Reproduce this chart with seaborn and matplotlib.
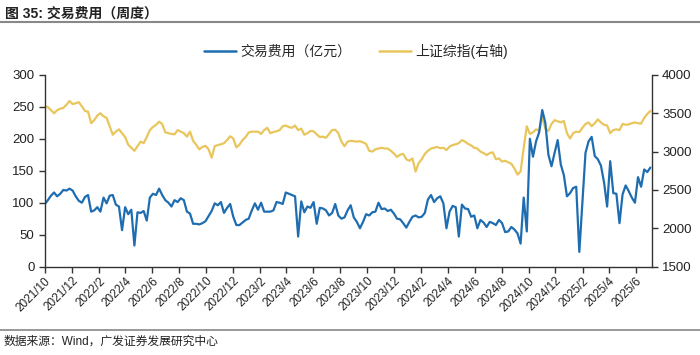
import numpy as np
import pandas as pd
import matplotlib
matplotlib.use("Agg")
import matplotlib.pyplot as plt
from matplotlib.lines import Line2D
import seaborn as sns

# weekly data
fee = [98, 104, 111, 116, 110, 114, 120, 119, 122, 119,
       110, 103, 100, 109, 112, 86, 88, 93, 86, 108,
       99, 111, 112, 97, 94, 57, 93, 82, 89, 33,
       85, 84, 87, 72, 108, 114, 112, 122, 112, 104,
       100, 94, 104, 101, 107, 104, 86, 83, 67, 67,
       66, 68, 71, 79, 87, 99, 96, 101, 84, 92,
       98, 78, 65, 65, 69, 73, 75, 88, 99, 89,
       100, 86, 86, 86, 88, 101, 100, 98,
       116, 114, 112, 110, 47, 102, 85, 94, 92, 101,
       67, 92, 91, 88, 80, 84, 98, 80, 75, 77,
       88, 96, 77, 70, 60, 70, 82, 80, 85, 86,
       100, 90, 91, 87, 89, 83, 75, 74, 68,
       61, 70, 78, 80, 77, 78, 84, 105, 112, 101,
       107, 110, 99, 60, 86, 95, 93, 47, 97, 91,
       90, 78, 80, 60, 73, 69, 62, 70, 68, 65,
       73, 68, 54, 55, 62, 58, 52, 36,
       108, 55, 200, 172, 196, 210, 245, 225, 175, 157,
       178, 198, 160, 143, 110, 115, 123, 125, 23, 100,
       178, 196, 203, 173, 168, 158, 132, 94, 165, 115,
       114, 68, 113, 127, 118, 108, 100, 140, 125, 152,
       148, 155]

sh_index = [3590, 3580, 3540, 3500, 3540, 3560, 3570, 3610, 3660, 3620,
            3630, 3645, 3590, 3530, 3520, 3370, 3410, 3470, 3500, 3460,
            3440, 3330, 3220, 3260, 3290, 3240, 3190, 3090, 3050, 3010,
            3070, 3130, 3110, 3190, 3280, 3320, 3350, 3390, 3360, 3250,
            3240, 3230, 3225, 3280, 3260, 3240, 3195, 3260, 3140, 3090,
            3030, 3060, 3075, 3030, 2920, 3070, 3085, 3095, 3110, 3150,
            3200, 3170, 3055, 3090, 3150, 3190, 3250, 3260, 3260, 3260,
            3230, 3280, 3310, 3240, 3255, 3265, 3280, 3330,
            3340, 3320, 3310, 3340, 3280, 3300, 3220, 3240, 3270, 3265,
            3225, 3190, 3195, 3180, 3230, 3280, 3285, 3240, 3130, 3070,
            3130, 3140, 3135, 3130, 3135, 3120, 3100, 3010, 3000, 3030,
            3040, 3050, 3040, 3040, 3010, 2975, 2930, 2960, 2970,
            2900, 2880, 2910, 2740, 2850, 2900, 2970, 3010, 3040, 3050,
            3060, 3045, 3050, 3020, 3065, 3085, 3095, 3110, 3150, 3130,
            3100, 3080, 3050, 3040, 3000, 2980, 2955, 2980, 2990, 2900,
            2910, 2870, 2880, 2860, 2840, 2780, 2700, 2740,
            3050, 3330, 3230, 3250, 3290, 3270, 3450, 3300, 3270, 3360,
            3410, 3395, 3380, 3400, 3240, 3170, 3240, 3260, 3255, 3310,
            3360, 3380, 3330, 3370, 3420, 3380, 3350, 3340, 3240, 3280,
            3290, 3280, 3360, 3350, 3355, 3370, 3380, 3370, 3365, 3440,
            3490, 3530]

start_date = "2021-10-08"
dates = pd.date_range(start_date, periods=len(fee), freq="7D")
df = pd.DataFrame({"date": dates, "fee": fee, "index": sh_index})

fee_label = "交易费用（亿元）"
index_label = "上证综指(右轴)"
blue = "#1f6db1"
yellow = "#e9c65c"

sns.set_style("ticks")
plt.rcParams["font.family"] = ["Liberation Sans", "Noto Sans CJK SC"]

fig = plt.figure(figsize=(7, 3.55), dpi=100)
fig.subplots_adjust(left=0.064, right=0.931, top=0.789, bottom=0.249)
ax = fig.add_subplot(111)
ax2 = ax.twinx()

sns.lineplot(data=df, x="date", y="fee", ax=ax, color=blue, linewidth=1.6, legend=False)
sns.lineplot(data=df, x="date", y="index", ax=ax2, color=yellow, linewidth=1.6, legend=False)
# blue line drawn on top
ax.set_zorder(ax2.get_zorder() + 1)
ax.patch.set_visible(False)

ax.set_ylim(0, 300)
ax.set_yticks(range(0, 301, 50))
ax2.set_ylim(1500, 4000)
ax2.set_yticks(range(1500, 4001, 500))
ax.set_xlim(dates[0], dates[-1] + pd.Timedelta(days=3))

ticks = [pd.Timestamp(start_date) + pd.DateOffset(months=2 * k) for k in range(23)]
ax.set_xticks(ticks)
ax.set_xticklabels([f"{t.year}/{t.month}" for t in ticks], rotation=45,
                   ha="right", rotation_mode="anchor", fontsize=8.5)

for a in (ax, ax2):
    a.set_xlabel("")
    a.set_ylabel("")
    a.spines["top"].set_visible(False)
    for s in a.spines.values():
        s.set_color("#333333")
        s.set_linewidth(1)
    a.tick_params(axis="both", direction="out", length=4, width=1,
                  color="#333333", labelsize=9.5, labelcolor="#222222")
ax.tick_params(axis="x", labelsize=8.5, pad=2)
ax.spines["right"].set_visible(False)
ax2.spines["left"].set_visible(False)
ax2.spines["bottom"].set_visible(False)

handles = [Line2D([], [], color=blue, linewidth=1.8),
           Line2D([], [], color=yellow, linewidth=1.8)]
fig.legend(handles, [fee_label, index_label], loc="center",
           bbox_to_anchor=(0.509, 0.856), ncol=2, frameon=False,
           fontsize=10, handlelength=2.3, handletextpad=0.3, columnspacing=2)

fig.text(0.007, 0.962, "图 35: 交易费用（周度）", fontsize=10, fontweight="bold",
         va="center", ha="left", color="#222222")
fig.add_artist(Line2D([0, 1], [0.937, 0.937], color="#888888", linewidth=1.5,
                      transform=fig.transFigure))
fig.add_artist(Line2D([0, 1], [0.07, 0.07], color="#888888", linewidth=1.2,
                      transform=fig.transFigure))
fig.text(0.005, 0.037, "数据来源：Wind，广发证券发展研究中心", fontsize=8.5,
         va="center", ha="left", color="#222222")

fig.savefig("out.png", dpi=100)
